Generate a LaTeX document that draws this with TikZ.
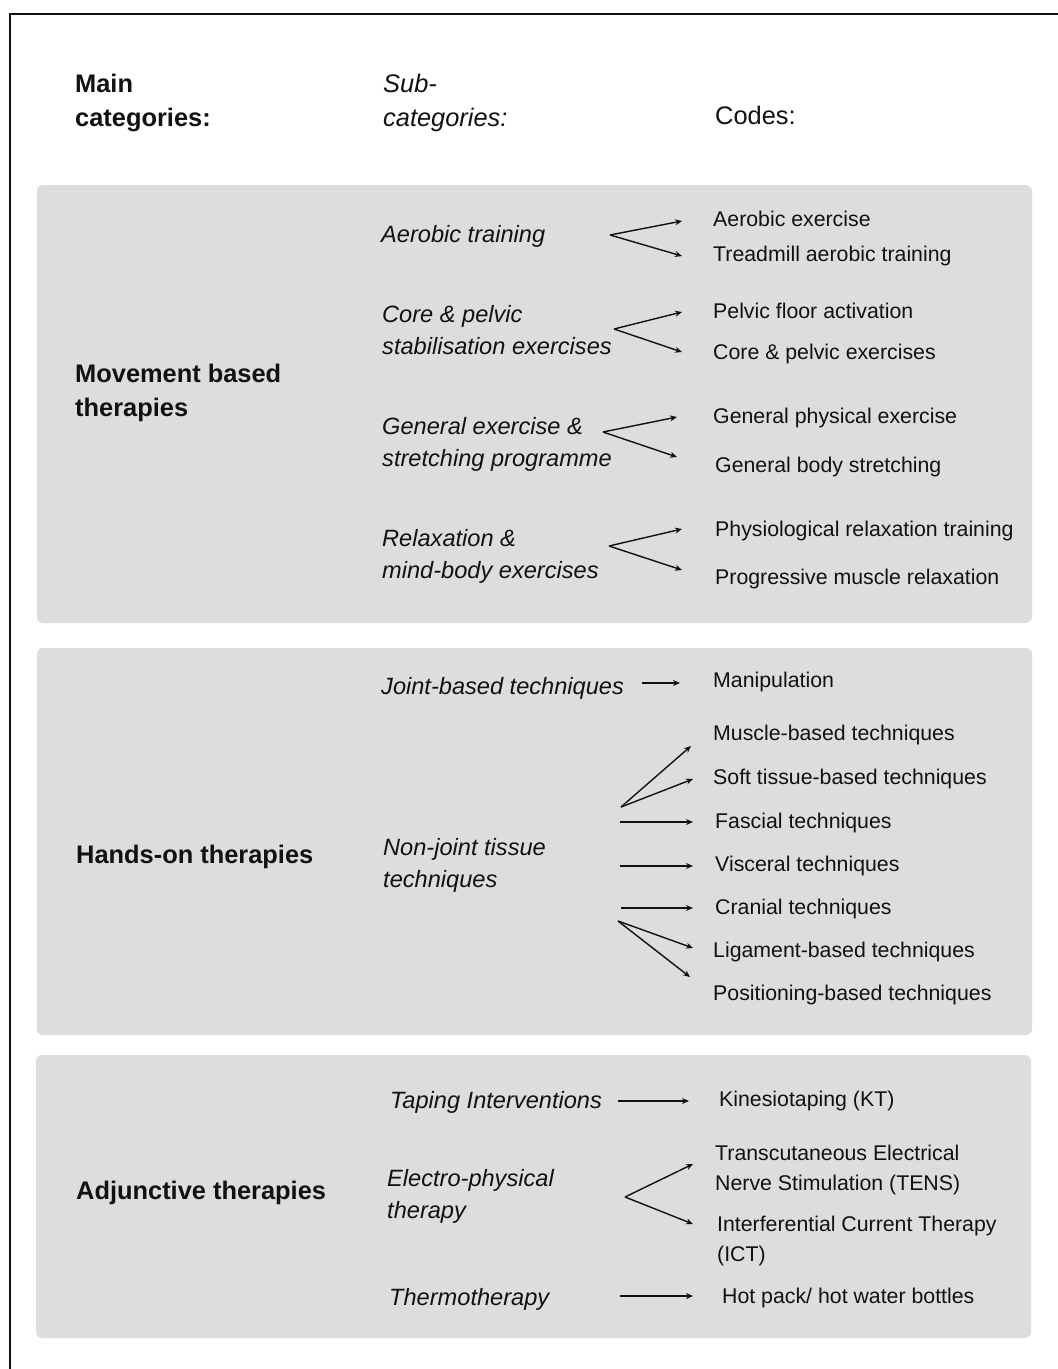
\documentclass[tikz,border=0pt]{standalone}
\usepackage{fontspec}
\setmainfont{Liberation Sans}
\usetikzlibrary{arrows.meta}
\definecolor{panelgray}{RGB}{221,221,221}
\definecolor{ink}{RGB}{17,17,17}
\newcommand{\twolines}[2]{\begin{tabular}[t]{@{}l@{}}#1\\#2\end{tabular}}
\tikzset{
  txt/.style={inner sep=0pt, anchor=base west, text=ink},
  hdrbold/.style={txt, font=\fontsize{25.4}{34}\selectfont\bfseries},
  hdrital/.style={txt, font=\fontsize{25.4}{34}\selectfont\itshape},
  hdrplain/.style={txt, font=\fontsize{25.4}{34}\selectfont},
  maincat/.style={txt, font=\fontsize{25.4}{34}\selectfont\bfseries},
  subcat/.style={txt, font=\fontsize{23.6}{32.5}\selectfont\itshape},
  codetxt/.style={txt, font=\fontsize{21.3}{30}\selectfont},
  panel/.style={fill=panelgray, draw=none, rounded corners=6pt},
  link/.style={draw=ink, line width=1.4pt, -{Stealth[length=7pt,width=6pt]}},
}
\begin{document}
\begin{tikzpicture}[x=1pt,y=-1pt]
\useasboundingbox (0,0) rectangle (1058,1369);
\fill[white] (0,0) rectangle (1058,1369);
% outer frame
\draw[line width=2pt, ink] (10,1369) -- (10,14) -- (1058,14);

% panels
\path[panel] (37,185) rectangle (1032,623);
\path[panel] (37,648) rectangle (1032,1035);
\path[panel] (36,1055) rectangle (1031,1338);

% column headers
\node[hdrbold] (hMain) at (75,92.5) {\twolines{Main}{categories:}};
\node[hdrital] (hSub) at (383,92.5) {\twolines{Sub-}{categories:}};
\node[hdrplain] (hCodes) at (715,124.5) {Codes:};

% ---- Movement based therapies
\node[maincat] (mMove) at (75,382.5) {\twolines{Movement based}{therapies}};
\node[subcat] (sAer) at (381,242) {Aerobic training};
\node[subcat] (sCore) at (382,322) {\twolines{Core \& pelvic}{stabilisation exercises}};
\node[subcat] (sGen) at (382,434) {\twolines{General exercise \&}{stretching programme}};
\node[subcat] (sRel) at (382,546) {\twolines{Relaxation \&}{mind-body exercises}};

\node[codetxt] (cAer1) at (713,226.7) {Aerobic exercise};
\node[codetxt] (cAer2) at (713,261) {Treadmill aerobic training};
\node[codetxt] (cCore1) at (713,318) {Pelvic floor activation};
\node[codetxt] (cCore2) at (713,359) {Core \& pelvic exercises};
\node[codetxt] (cGen1) at (713,423) {General physical exercise};
\node[codetxt] (cGen2) at (715,472) {General body stretching};
\node[codetxt] (cRel1) at (715,536) {Physiological relaxation training};
\node[codetxt] (cRel2) at (715,584) {Progressive muscle relaxation};

\coordinate (aAer) at (610,235);
\coordinate (tAer1) at (682,221);
\coordinate (tAer2) at (682,256);
\coordinate (aCore) at (614,329);
\coordinate (tCore1) at (682,312);
\coordinate (tCore2) at (682,352);
\coordinate (aGen) at (603,432);
\coordinate (tGen1) at (677,417);
\coordinate (tGen2) at (677,457);
\coordinate (aRel) at (609,546);
\coordinate (tRel1) at (682,529);
\coordinate (tRel2) at (682,570);

\draw[link] (aAer) -- (tAer1);
\draw[link] (aAer) -- (tAer2);
\draw[link] (aCore) -- (tCore1);
\draw[link] (aCore) -- (tCore2);
\draw[link] (aGen) -- (tGen1);
\draw[link] (aGen) -- (tGen2);
\draw[link] (aRel) -- (tRel1);
\draw[link] (aRel) -- (tRel2);

% ---- Hands-on therapies
\node[maincat] (mHands) at (76,863.5) {Hands-on therapies};
\node[subcat] (sJoint) at (381,694) {Joint-based techniques};
\node[subcat] (sNon) at (383,855) {\twolines{Non-joint tissue}{techniques}};

\node[codetxt] (cManip) at (713,687.5) {Manipulation};
\node[codetxt] (cMusc) at (713,740.5) {Muscle-based techniques};
\node[codetxt] (cSoft) at (713,784.5) {Soft tissue-based techniques};
\node[codetxt] (cFasc) at (715,828.5) {Fascial techniques};
\node[codetxt] (cVisc) at (715,871.5) {Visceral techniques};
\node[codetxt] (cCran) at (715,914.5) {Cranial techniques};
\node[codetxt] (cLig) at (713,957.5) {Ligament-based techniques};
\node[codetxt] (cPos) at (713,1000.5) {Positioning-based techniques};

\coordinate (aJoint) at (642,683);
\coordinate (tJoint) at (680,683);
\coordinate (aNonUp) at (621,807);
\coordinate (tMusc) at (691,746);
\coordinate (tSoft) at (693,779);
\coordinate (aFasc) at (620,822);
\coordinate (tFasc) at (693,822);
\coordinate (aVisc) at (620,866);
\coordinate (tVisc) at (693,866);
\coordinate (aCran) at (621,908);
\coordinate (tCran) at (693,908);
\coordinate (aNonDn) at (618,921);
\coordinate (tLig) at (693,948);
\coordinate (tPos) at (690,977);

\draw[link] (aJoint) -- (tJoint);
\draw[link] (aNonUp) -- (tMusc);
\draw[link] (aNonUp) -- (tSoft);
\draw[link] (aFasc) -- (tFasc);
\draw[link] (aVisc) -- (tVisc);
\draw[link] (aCran) -- (tCran);
\draw[link] (aNonDn) -- (tLig);
\draw[link] (aNonDn) -- (tPos);

% ---- Adjunctive therapies
\node[maincat] (mAdj) at (76,1199.5) {Adjunctive therapies};
\node[subcat] (sTape) at (390,1108) {Taping Interventions};
\node[subcat] (sElec) at (387,1186) {\twolines{Electro-physical}{therapy}};
\node[subcat] (sTherm) at (389,1305) {Thermotherapy};

\node[codetxt] (cKT) at (719,1106.5) {Kinesiotaping (KT)};
\node[codetxt] (cTENS) at (715,1160.5) {\begin{tabular}[t]{@{}l@{}}Transcutaneous Electrical\\Nerve Stimulation (TENS)\end{tabular}};
\node[codetxt] (cICT) at (717,1231.5) {\begin{tabular}[t]{@{}l@{}}Interferential Current Therapy\\(ICT)\end{tabular}};
\node[codetxt] (cHot) at (722,1303.5) {Hot pack/ hot water bottles};

\coordinate (aTape) at (618,1101);
\coordinate (tTape) at (689,1101);
\coordinate (aElec) at (625,1197);
\coordinate (tTENS) at (693,1164);
\coordinate (tICT) at (693,1224);
\coordinate (aTherm) at (620,1296);
\coordinate (tHot) at (693,1296);

\draw[link] (aTape) -- (tTape);
\draw[link] (aElec) -- (tTENS);
\draw[link] (aElec) -- (tICT);
\draw[link] (aTherm) -- (tHot);
\end{tikzpicture}
\end{document}
